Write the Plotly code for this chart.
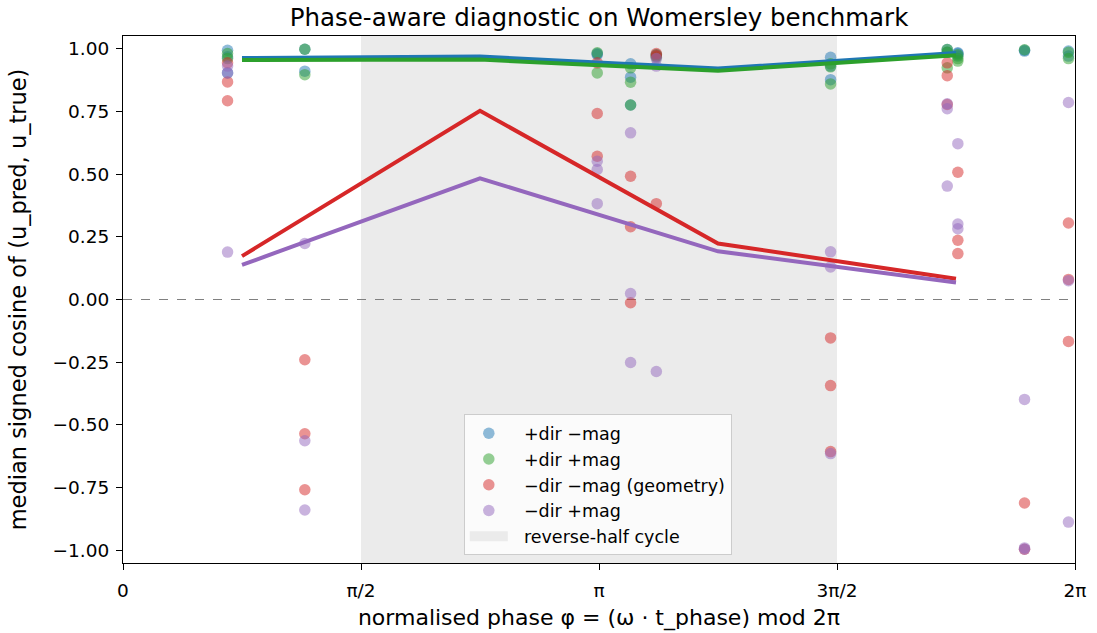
import math
import plotly.graph_objects as go

# ---------------- data ----------------
phases = [0.69, 1.20, 3.13, 3.35, 3.52, 4.67, 5.44, 5.51, 5.95, 6.24]

pos_dir_neg_mag = [
    [0.993, 0.967, 0.903], [0.997, 0.91], [0.98, 0.976], [0.939, 0.886, 0.775],
    [0.975, 0.97], [0.965, 0.93, 0.876], [0.996, 0.985], [0.983, 0.98, 0.97],
    [0.993, 0.99], [0.99, 0.97],
]
pos_dir_pos_mag = [
    [0.98, 0.96], [0.997, 0.896], [0.983, 0.903], [0.923, 0.866, 0.775],
    [0.975, 0.965], [0.939, 0.927, 0.859], [0.996, 0.985, 0.923], [0.975, 0.96, 0.95],
    [0.995], [0.985, 0.96],
]
neg_dir_neg_mag = [
    [0.943, 0.867, 0.792], [-0.24, -0.535, -0.758], [0.943, 0.741, 0.571],
    [0.491, 0.29, -0.013], [0.98, 0.97, 0.382], [-0.153, -0.343, -0.606],
    [0.943, 0.892, 0.777], [0.507, 0.236, 0.183], [-0.811, -0.995],
    [0.305, 0.08, -0.167],
]
neg_dir_pos_mag = [
    [0.93, 0.903, 0.189], [0.223, -0.563, -0.839], [0.551, 0.518, 0.382],
    [0.664, 0.024, -0.251], [0.96, 0.93, -0.287], [0.19, 0.13, -0.614],
    [0.78, 0.76, 0.452], [0.621, 0.301, 0.282], [-0.398, -0.99, -0.995],
    [0.785, 0.075, -0.887],
]

bin_centers = [math.pi / 4, 3 * math.pi / 4, 5 * math.pi / 4, 7 * math.pi / 4]
median_pos_neg = [0.962, 0.968, 0.920, 0.982]
median_pos_pos = [0.954, 0.956, 0.912, 0.973]
median_neg_neg = [0.173, 0.752, 0.223, 0.083]
median_neg_pos = [0.138, 0.483, 0.192, 0.068]

series_names = ["+dir \u2212mag", "+dir +mag", "\u2212dir \u2212mag (geometry)", "\u2212dir +mag"]
shade_name = "reverse-half cycle"
tick_vals = [0, math.pi / 2, math.pi, 3 * math.pi / 2, 2 * math.pi]
tick_text = ["0", "\u03c0/2", "\u03c0", "3\u03c0/2", "2\u03c0"]
y_ticks = [-1.0, -0.75, -0.5, -0.25, 0.0, 0.25, 0.5, 0.75, 1.0]

# ---------------- styling ----------------
colors = ["#1f77b4", "#2ca02c", "#d62728", "#9467bd"]
FONT = "DejaVu Sans"
PAD = "\u00a0\u00a0"  # spacing between legend symbol and text


def flatten(vals):
    xs, ys = [], []
    for p, col in zip(phases, vals):
        for v in col:
            xs.append(p)
            ys.append(v)
    return xs, ys


fig = go.Figure()

# shaded reverse-half cycle
fig.add_shape(type="rect", xref="x", yref="paper", x0=math.pi / 2, x1=3 * math.pi / 2,
              y0=0, y1=1, fillcolor="#ebebeb", line_width=0, layer="below")
# zero line
fig.add_shape(type="line", xref="paper", yref="y", x0=0, x1=1, y0=0, y1=0,
              line=dict(color="#808080", width=1.2, dash="dash"), layer="below")

all_series = [pos_dir_neg_mag, pos_dir_pos_mag, neg_dir_neg_mag, neg_dir_pos_mag]
for i, (name, vals) in enumerate(zip(series_names, all_series)):
    xs, ys = flatten(vals)
    fig.add_trace(go.Scatter(
        x=xs, y=ys, mode="markers", name=PAD + name, legendgroup=f"g{i}",
        marker=dict(size=11.5, color=colors[i], opacity=0.5, line=dict(width=0)),
    ))

# legend entry for shading
fig.add_trace(go.Scatter(
    x=[None], y=[None], mode="lines", name=PAD + shade_name, legendgroup="g4",
    line=dict(color="#ebebeb", width=14),
))

for i, med in enumerate([median_pos_neg, median_pos_pos, median_neg_neg, median_neg_pos]):
    fig.add_trace(go.Scatter(
        x=bin_centers, y=med, mode="lines", showlegend=False,
        line=dict(color=colors[i], width=4),
    ))

axis_common = dict(
    showgrid=False, zeroline=False, showline=True, linecolor="black", linewidth=1.2,
    mirror=True, ticks="outside", ticklen=6, tickwidth=1.2, tickcolor="black",
    tickfont=dict(family=FONT, size=18.5, color="black"), automargin=False,
)

fig.update_xaxes(range=[0, 2 * math.pi], tickvals=tick_vals, ticktext=tick_text,
                 ticklabelstandoff=5,
                 title=dict(text="normalised phase \u03c6 = (\u03c9 \u00b7 t_phase) mod 2\u03c0",
                            font=dict(family=FONT, size=22, color="black"), standoff=9),
                 **axis_common)
fig.update_yaxes(range=[-1.05, 1.05], tickvals=y_ticks, tickformat=".2f",
                 ticklabelstandoff=3,
                 title=dict(text="median signed cosine of (u_pred, u_true)",
                            font=dict(family=FONT, size=22.5, color="black"), standoff=19),
                 **axis_common)

fig.update_layout(
    width=1097, height=633,
    margin=dict(l=123, r=22, t=36, b=70, autoexpand=False),
    plot_bgcolor="white", paper_bgcolor="white",
    font=dict(family=FONT, color="black"),
    title=dict(text="Phase-aware diagnostic on Womersley benchmark",
               x=(123 + 1075) / 2 / 1097, xanchor="center",
               y=1 - 17 / 633, yanchor="middle",
               font=dict(family=FONT, size=24.5, color="black")),
    legend=dict(x=0.358, y=0.282, xanchor="left", yanchor="top",
                bgcolor="rgba(255,255,255,0.8)", bordercolor="#cccccc", borderwidth=1,
                font=dict(family=FONT, size=17.5, color="black"),
                itemwidth=38, tracegroupgap=0, traceorder="grouped"),
    showlegend=True,
)

fig.write_html("out.html")
